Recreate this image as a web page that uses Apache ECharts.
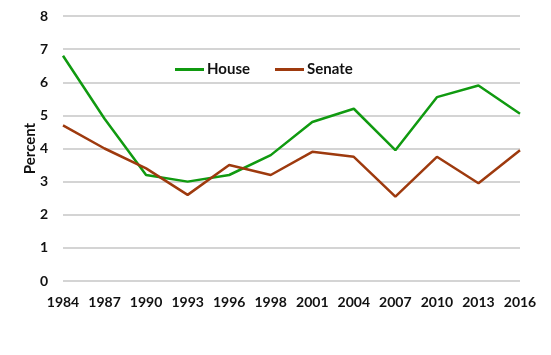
<!DOCTYPE html>
<html>
<head>
<meta charset="utf-8">
<script src="https://cdn.jsdelivr.net/npm/echarts@6/dist/echarts.min.js"></script>
<style>html,body{margin:0;padding:0;background:#fff}#c{width:551px;height:355px}</style>
</head>
<body>
<div id="c"></div>
<script>
var years = ['1984','1987','1990','1993','1996','1998','2001','2004','2007','2010','2013','2016'];
var house = [6.8, 4.9, 3.2, 3.0, 3.2, 3.8, 4.8, 5.2, 3.95, 5.55, 5.9, 5.05];
var senate = [4.7, 4.0, 3.4, 2.6, 3.5, 3.2, 3.9, 3.75, 2.55, 3.75, 2.95, 3.95];
var yTicks = [0, 1, 2, 3, 4, 5, 6, 7, 8];

var font = 'Lato, "Open Sans", sans-serif';
var chart = echarts.init(document.getElementById('c'), null, {renderer: 'canvas'});
chart.setOption({
  animation: false,
  backgroundColor: '#fff',
  grid: {left: 63, right: 31, top: 16, bottom: 74, containLabel: false},
  legend: {
    left: 170, top: 57,
    itemWidth: 29, itemHeight: 3, itemGap: 25,
    icon: 'rect',
    textStyle: {fontFamily: font, fontWeight: 'bold', fontSize: 15, color: '#111', padding: [0, 0, 0, -2]},
    data: ['House', 'Senate']
  },
  xAxis: {
    type: 'category', data: years, boundaryGap: false,
    axisLine: {show: false}, axisTick: {show: false},
    axisLabel: {fontFamily: font, fontWeight: 'bold', fontSize: 14, color: '#111', margin: 14, interval: 0}
  },
  yAxis: {
    type: 'value', min: yTicks[0], max: yTicks[yTicks.length - 1], interval: 1,
    name: 'Percent', nameLocation: 'middle', nameGap: 25, nameRotate: 90, nameMoveOverlap: false,
    nameTextStyle: {fontFamily: font, fontWeight: 'bold', fontSize: 15, color: '#111'},
    axisLine: {show: false}, axisTick: {show: false},
    axisLabel: {fontFamily: font, fontWeight: 'bold', fontSize: 14, color: '#111', margin: 15},
    splitLine: {lineStyle: {color: '#c6c6c6', width: 1.5}}
  },
  series: [
    {name: 'House', type: 'line', data: house, symbol: 'none',
     lineStyle: {color: '#109a10', width: 2.5}, itemStyle: {color: '#109a10'}},
    {name: 'Senate', type: 'line', data: senate, symbol: 'none',
     lineStyle: {color: '#9e3a0e', width: 2.5}, itemStyle: {color: '#9e3a0e'}}
  ]
});
</script>
</body>
</html>
